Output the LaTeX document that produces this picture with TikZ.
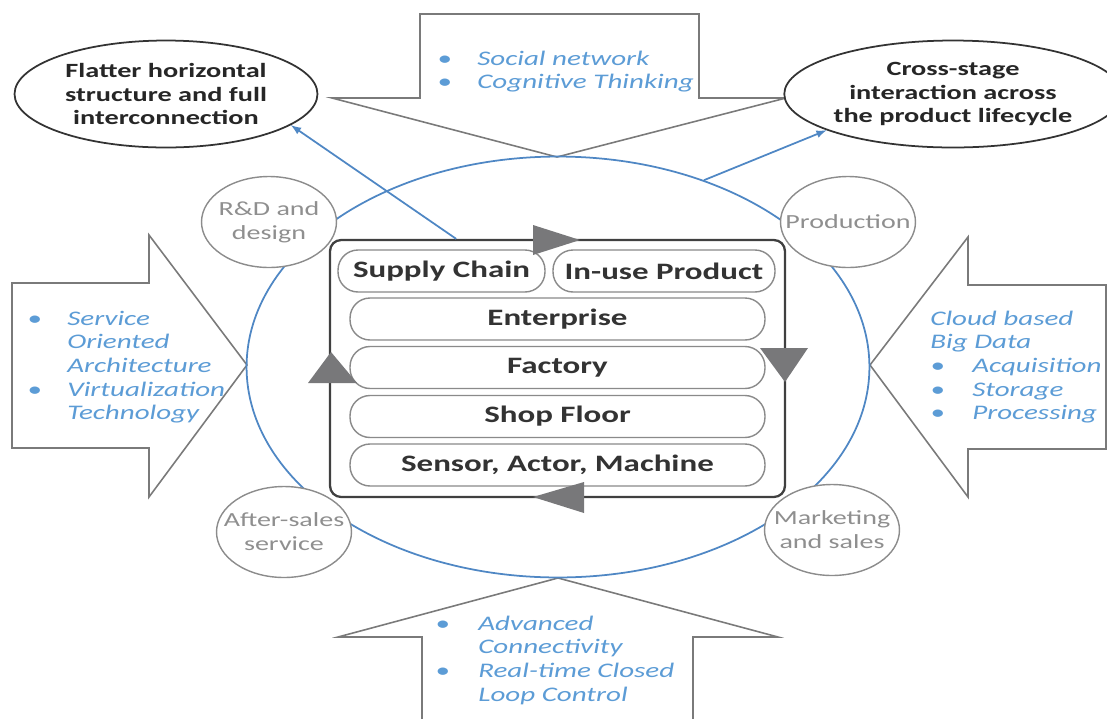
\documentclass[tikz,border=0pt]{standalone}
\usepackage{fontspec}
\setmainfont{Carlito}[FakeStretch=1.4]
\usetikzlibrary{shapes.geometric}

\begin{document}
\begin{tikzpicture}[x=0.02cm,y=-0.02cm,
	stage/.style={draw=cstage,line width=0.8pt,fill=white,shape=ellipse,inner sep=0pt,minimum width=2.7cm,minimum height=1.82cm,text=clstage,font=\fontsize{11.4}{13.6}\selectfont,align=center},
	goal/.style={draw=cgoal,line width=1pt,fill=white,shape=ellipse,inner sep=0pt,minimum width=6.06cm,minimum height=2.14cm,text=clgoal,font=\bfseries\fontsize{11.5}{13.6}\selectfont,align=center},
	level/.style={draw=clevel,line width=0.8pt,rounded corners=0.4cm,minimum height=0.84cm,inner sep=0pt,text=cllevel,font=\bfseries\fontsize{13.4}{16}\selectfont},
	enabler/.style={anchor=base west,inner sep=0pt,text=clnote,font=\itshape\fontsize{11.8}{13.5}\selectfont},
	bigarrow/.style={draw=carrow,line width=0.9pt,fill=white},
	turn/.style={fill=cturn},
	link/.style={draw=cring,line width=1pt,-latex}]
					\definecolor{cgoal}{rgb}{0.2,0.2,0.2}
					\definecolor{clgoal}{rgb}{0.15,0.15,0.15}
					\definecolor{cstage}{rgb}{0.55,0.55,0.55}
					\definecolor{clstage}{rgb}{0.56,0.56,0.56}
					\definecolor{clevel}{rgb}{0.54,0.54,0.54}
					\definecolor{cllevel}{rgb}{0.2,0.2,0.2}
					\definecolor{cframe}{rgb}{0.25,0.25,0.25}
					\definecolor{carrow}{rgb}{0.48,0.48,0.48}
					\definecolor{cturn}{rgb}{0.47,0.47,0.48}
					\definecolor{cring}{rgb}{0.31,0.53,0.77}
					\definecolor{clnote}{rgb}{0.36,0.61,0.84}
					%
					\useasboundingbox (0,0) rectangle (1107,718);
					%
					\draw[bigarrow] (420,14) -- (699,14) -- (699,98) -- (786,98) -- (557,157) -- (332,98) -- (420,98) -- cycle;
					\draw[bigarrow] (12,283) -- (149,283) -- (149,235) -- (247,365) -- (149,497) -- (149,448) -- (12,448) -- cycle;
					\draw[bigarrow] (1106,285) -- (968,285) -- (968,237) -- (870,365) -- (968,497) -- (968,449) -- (1106,449) -- cycle;
					\draw[bigarrow] (422,722) -- (422,637) -- (338,637) -- (558,578) -- (778,637) -- (693,637) -- (693,722);
					%
					\node[shape=ellipse,draw=cring,line width=1pt,minimum width=12.46cm,minimum height=8.42cm] (ring) at (558,367) {};
					%
					\node[stage] (rd) at (269,222) {\makebox[0pt]{R\&D and}\\\makebox[0pt]{design}};
					\node[stage] (prod) at (848,222) {\makebox[0pt]{Production}};
					\node[stage] (after) at (284,532) {\makebox[0pt]{After-sales}\\\makebox[0pt]{service}};
					\node[stage] (mkt) at (832,530) {\makebox[0pt]{Marketing}\\\makebox[0pt]{and sales}};
					%
					\node[draw=cframe,line width=1.3pt,rounded corners=0.22cm,fill=white,minimum width=9.1cm,minimum height=5.14cm] (frame) at (557.5,368.5) {};
					%
					\node[level,minimum width=4.14cm] (supply) at (441.5,271) {Supply Chain};
					\node[level,minimum width=4.44cm] (inuse) at (664,271) {In-use Product};
					\node[level,minimum width=8.3cm] (ent) at (557.5,319) {Enterprise};
					\node[level,minimum width=8.3cm] (fac) at (557.5,367.5) {Factory};
					\node[level,minimum width=8.3cm] (shop) at (557.5,416.5) {Shop Floor};
					\node[level,minimum width=8.3cm] (sam) at (557.5,465) {Sensor, Actor, Machine};
					%
					\fill[turn] (533,225) -- (580,240) -- (533,255) -- cycle;
					\fill[turn] (760,348) -- (808,348) -- (785,382) -- cycle;
					\fill[turn] (584,482) -- (533,497) -- (584,513) -- cycle;
					\fill[turn] (308,383) -- (331,352) -- (357,383) -- cycle;
					%
					\node[goal] (flat) at (166,94) {Flatter horizontal\\structure and full\\interconnection};
					\node[goal] (cross) at (953,94) {Cross-stage\\interaction across\\the product lifecycle};
					%
					\draw[link] (frame.128.6) -- (flat.-14);
					\draw[link] (ring.52) -- (cross.196);
					%
					\node[enabler] (social) at (437,65) {\begin{tabular}[t]{@{}p{0.8cm}@{}l@{}}\textbullet & Social network\\ \textbullet & Cognitive Thinking\end{tabular}};
					\node[enabler] (soa) at (27,325) {\begin{tabular}[t]{@{}p{0.8cm}@{}l@{}}\textbullet & Service\\ & Oriented\\ & Architecture\\ \textbullet & Virtualization\\ & Technology\end{tabular}};
					\node[enabler] (cloud) at (930,325) {\begin{tabular}[t]{@{}p{0.84cm}@{}l@{}}\multicolumn{2}{@{}l@{}}{Cloud based}\\ \multicolumn{2}{@{}l@{}}{Big Data}\\ \textbullet & Acquisition\\ \textbullet & Storage\\ \textbullet & Processing\end{tabular}};
					\node[enabler] (conn) at (435,630) {\begin{tabular}[t]{@{}p{0.86cm}@{}l@{}}\textbullet & Advanced\\ & Connectivity\\ \textbullet & Real-time Closed\\ & Loop Control\end{tabular}};
					%
				\end{tikzpicture}
\end{document}
